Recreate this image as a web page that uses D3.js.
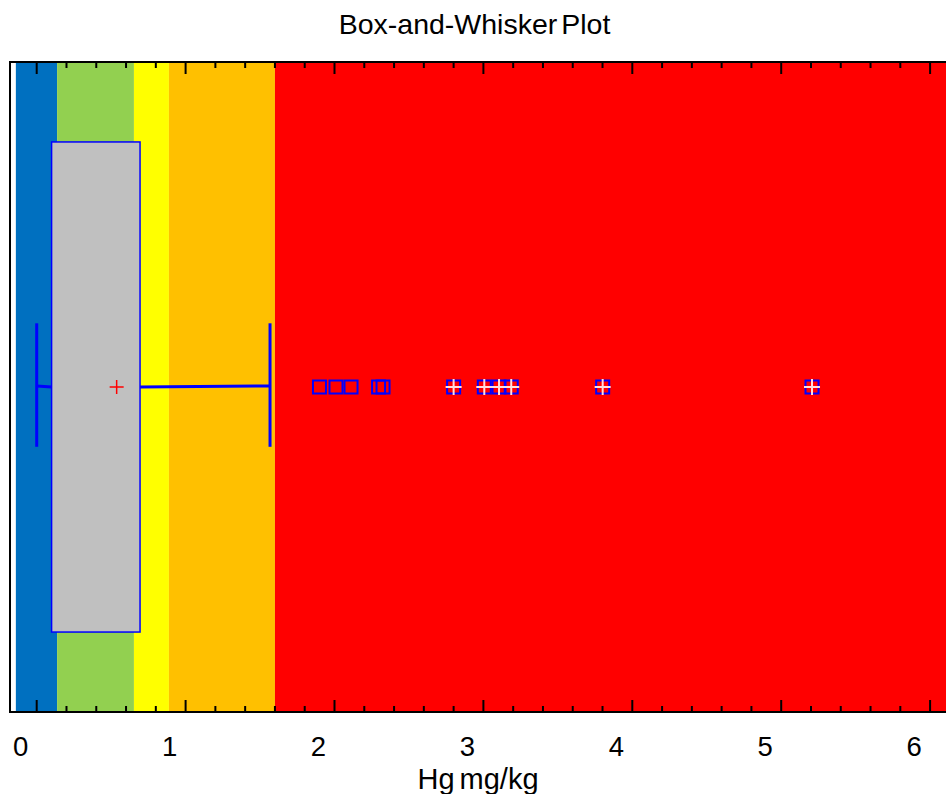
<!DOCTYPE html>
<html lang="en">
<head>
<meta charset="UTF-8">
<title>Box-and-Whisker Plot</title>
<script src="https://d3js.org/d3.v7.min.js"></script>
<style>
  body { margin: 0; background: #fff; }
  svg { display: block; font-family: "Liberation Sans", Arial, sans-serif; }
</style>
</head>
<body>
<script>
// colour bands behind the plot (Hg mg/kg)
const bandStarts = [-0.14, 0.137, 0.653, 0.888, 1.6]
const bandEnds   = [0.137, 0.653, 0.888, 1.6, 6.2]
const bandColors = ["#0070c0", "#92d050", "#ffff00", "#ffc000", "#ff0000"]

// box summary
const whiskerLow = 0.0
const q1 = 0.10
const q3 = 0.694
const meanVal = 0.537
const whiskerHigh = 1.567

// outside points (squares) and far outside points (squares with plus)
const outsidePts = [1.899, 2.01, 2.111, 2.296, 2.326]
const farPts = [2.8, 3.006, 3.105, 3.187, 3.801, 5.207]

const majorTicks = [0, 1, 2, 3, 4, 5, 6]
const minorTicks = d3.range(-0.2, 6.21, 0.2).map(d => +d.toFixed(1))

const width = 946, height = 794
const plotL = 10, plotR = 946, plotT = 62, plotB = 712

const svg = d3.select("body").append("svg")
  .attr("width", width)
  .attr("height", height)

const x = d3.scaleLinear()
  .domain([(plotL - 36.7) / 148.9, (plotR - 36.7) / 148.9])
  .range([plotL, plotR])
const y = d3.scaleLinear().domain([0, 1]).range([plotT, plotB])

// bands
svg.append("g").selectAll("rect")
  .data(bandStarts)
  .enter().append("rect")
  .attr("x", (d, i) => x(d))
  .attr("width", (d, i) => x(bandEnds[i]) - x(d))
  .attr("y", plotT)
  .attr("height", plotB - plotT)
  .attr("fill", (d, i) => bandColors[i])

const mid = y(0.5)
const blue = "#0000ff"

// whiskers
svg.append("line")
  .attr("x1", x(whiskerLow)).attr("x2", x(q1))
  .attr("y1", mid - 1).attr("y2", mid)
  .attr("stroke", blue).attr("stroke-width", 3)
svg.append("line")
  .attr("x1", x(q3)).attr("x2", x(whiskerHigh))
  .attr("y1", mid).attr("y2", mid - 1)
  .attr("stroke", blue).attr("stroke-width", 3)
for (const v of [whiskerLow, whiskerHigh]) {
  svg.append("line")
    .attr("x1", x(v)).attr("x2", x(v))
    .attr("y1", y(0.402)).attr("y2", y(0.592))
    .attr("stroke", blue).attr("stroke-width", 3)
}

// box
svg.append("rect")
  .attr("x", x(q1))
  .attr("width", x(q3) - x(q1))
  .attr("y", y(0.123))
  .attr("height", y(0.877) - y(0.123))
  .attr("fill", "#c0c0c0")
  .attr("stroke", blue)
  .attr("stroke-width", 1.5)

// mean marker
const mx = x(meanVal)
svg.append("path")
  .attr("d", `M${mx - 7},${mid}H${mx + 7}M${mx},${mid - 7}V${mid + 7}`)
  .attr("stroke", "#ff0000").attr("stroke-width", 1.5).attr("fill", "none")

// outside points
const sq = 13
svg.append("g").selectAll("rect")
  .data(outsidePts.concat(farPts))
  .enter().append("rect")
  .attr("x", d => x(d) - sq / 2)
  .attr("y", mid - sq / 2)
  .attr("width", sq).attr("height", sq)
  .attr("fill", "none")
  .attr("stroke", blue)
  .attr("stroke-width", 2)
svg.append("g").selectAll("path")
  .data(farPts)
  .enter().append("path")
  .attr("d", d => `M${x(d) - 8},${mid}H${x(d) + 8}M${x(d)},${mid - 8}V${mid + 8}`)
  .attr("stroke", "#ffe0e0")
  .attr("stroke-width", 2)

// frame
svg.append("path")
  .attr("d", `M${plotR},${plotT}H${plotL}V${plotB}H${plotR}`)
  .attr("fill", "none").attr("stroke", "#000").attr("stroke-width", 2)

// ticks (inward, top and bottom)
const ticksG = svg.append("g").attr("stroke", "#000").attr("stroke-width", 2)
for (const t of minorTicks) {
  const isMajor = Math.abs(t - Math.round(t)) < 1e-6
  const len = isMajor ? 12 : 6
  const px = x(t)
  if (px < plotL + 2 || px > plotR) continue
  ticksG.append("line").attr("x1", px).attr("x2", px).attr("y1", plotT).attr("y2", plotT + len)
  ticksG.append("line").attr("x1", px).attr("x2", px).attr("y1", plotB).attr("y2", plotB - len)
}

// tick labels
svg.append("g").selectAll("text")
  .data(majorTicks)
  .enter().append("text")
  .attr("x", d => x(d) - 16)
  .attr("y", 756)
  .attr("text-anchor", "middle")
  .attr("font-size", 27.5)
  .text(d => d)

svg.append("text")
  .attr("x", 478).attr("y", 789)
  .attr("text-anchor", "middle")
  .attr("font-size", 29)
  .attr("word-spacing", -3)
  .text("Hg mg/kg")

svg.append("text")
  .attr("x", 474.5).attr("y", 34)
  .attr("text-anchor", "middle")
  .attr("font-size", 28.5)
  .attr("word-spacing", -4)
  .text("Box-and-Whisker Plot")
</script>
</body>
</html>
